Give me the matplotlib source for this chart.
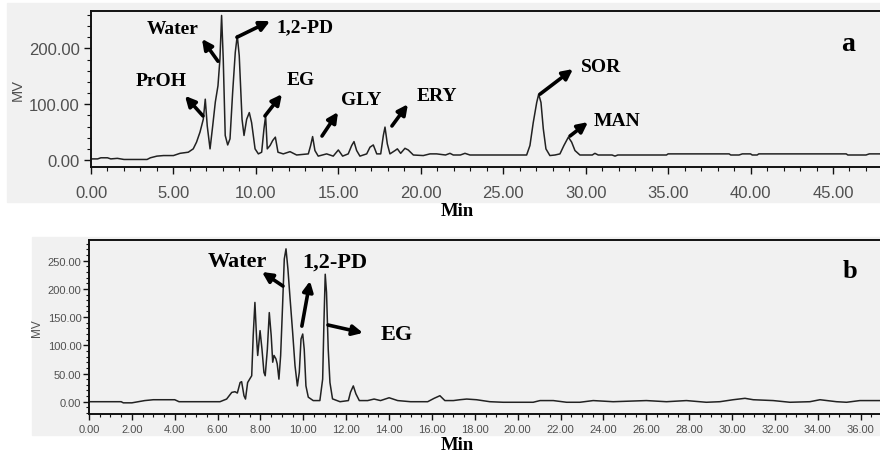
import matplotlib
matplotlib.use("Agg")
import matplotlib.pyplot as plt
from matplotlib.patches import Rectangle
from matplotlib.ticker import MultipleLocator, FormatStrFormatter

# chromatogram a: retention time (min) vs signal (mV)
top_time = [
    0.0, 0.4, 0.6, 1.0, 1.2, 1.6, 2.0, 3.4, 3.6, 4.0,
    4.4, 5.0, 5.4, 5.9, 6.2, 6.4, 6.61, 6.81, 6.93, 7.05,
    7.22, 7.38, 7.54, 7.7, 7.82, 7.92, 8.02, 8.14, 8.29, 8.43,
    8.59, 8.75, 8.87, 8.99, 9.16, 9.28, 9.44, 9.6, 9.74, 9.95,
    10.15, 10.35, 10.49, 10.59, 10.69, 10.86, 11.02, 11.18, 11.34, 11.66,
    12.07, 12.47, 13.18, 13.32, 13.44, 13.58, 13.78, 14.29, 14.69, 15.0,
    15.26, 15.6, 15.81, 15.95, 16.11, 16.31, 16.72, 16.92, 17.12, 17.33,
    17.57, 17.73, 17.83, 17.97, 18.13, 18.44, 18.58, 18.78, 19.04, 19.24,
    19.55, 20.15, 20.56, 20.96, 21.5, 21.77, 21.97, 22.4, 22.68, 22.98,
    26.42, 26.62, 26.82, 27.03, 27.15, 27.29, 27.43, 27.59, 27.83, 28.14,
    28.44, 28.68, 28.95, 29.15, 29.35, 29.65, 30.4, 30.56, 30.76, 31.6,
    31.78, 31.95, 34.9, 35.0, 38.7, 38.8, 39.3, 39.5, 40.0, 40.1,
    40.4, 40.5, 45.8, 45.9, 47.0, 47.2, 48.0,
]
top_mv = [
    2, 2, 4, 4, 2, 3, 1, 1, 4, 7,
    8, 8, 12, 14, 20, 32, 50, 73, 109, 61,
    20, 61, 104, 133, 181, 259, 181, 44, 27, 38,
    121, 193, 223, 187, 73, 44, 73, 85, 67, 20,
    11, 14, 56, 79, 20, 26, 35, 41, 14, 11,
    15, 9, 11, 26, 42, 17, 7, 11, 7, 18,
    7, 11, 26, 33, 17, 7, 11, 23, 27, 11,
    11, 44, 59, 29, 11, 17, 20, 12, 21, 18,
    9, 8, 11, 11, 9, 12, 9, 9, 12, 9,
    9, 26, 67, 103, 118, 103, 56, 20, 8, 9,
    11, 26, 41, 32, 17, 9, 9, 12, 9, 9,
    7, 9, 9, 11, 11, 9, 9, 11, 11, 9,
    9, 11, 11, 9, 9, 11, 11,
]

# chromatogram b
bot_time = [
    0.0, 1.5, 1.6, 2.0, 2.6, 3.0, 4.0, 4.2, 6.11, 6.42,
    6.66, 6.81, 6.92, 7.05, 7.12, 7.23, 7.3, 7.4, 7.51, 7.59,
    7.66, 7.74, 7.82, 7.87, 7.98, 8.07, 8.16, 8.22, 8.32, 8.41,
    8.5, 8.57, 8.63, 8.72, 8.78, 8.86, 8.94, 9.03, 9.11, 9.19,
    9.28, 9.37, 9.5, 9.61, 9.72, 9.81, 9.89, 9.97, 10.04, 10.12,
    10.23, 10.46, 10.77, 10.9, 10.96, 11.02, 11.08, 11.16, 11.24, 11.36,
    11.71, 12.1, 12.2, 12.33, 12.45, 12.61, 13.0, 13.3, 13.6, 14.0,
    14.4, 15.0, 15.8, 16.1, 16.37, 16.6, 17.0, 17.3, 17.62, 18.08,
    18.7, 19.32, 20.72, 21.04, 21.66, 22.28, 22.9, 23.52, 24.45, 26.0,
    26.94, 27.87, 28.8, 29.43, 30.05, 30.6, 30.99, 31.92, 32.7, 33.63,
    34.1, 34.87, 35.34, 35.96, 37.0,
]
bot_mv = [
    0, 0, -2, -2, 2, 3.5, 3.5, 0, 0, 4.7,
    16.5, 17.7, 15.4, 34, 35.5, 10.6, 4.7, 34, 41, 46,
    117, 176, 111, 82, 126, 93, 52, 46, 93, 158,
    117, 70, 82, 76, 67, 40, 82, 170, 253, 271,
    235, 188, 123, 64, 28, 52, 111, 120, 93, 28,
    8, 2, 2, 40, 141, 226, 194, 93, 34, 5,
    0, 2, 17, 28, 14, 2, 2, 4.7, 2, 7,
    2, 0, 0, 6, 10.6, 2, 2, 3.5, 4.7, 3.5,
    0, -1, -1, 2, 2, -1, -1, 2, 0, 2,
    0, 2, -1, 0, 3.5, 6, 3.5, 2, -1, 0,
    3.5, 0, -1, 2, 2,
]

# peak labels: (text, label x, label y, arrow tail (x, y), arrow head (x, y))
top_labels = [
    ("Water", 4.97, 235, (7.70, 177), (6.73, 217)),
    ("1,2-PD", 13.0, 238, (8.85, 220), (10.86, 249)),
    ("PrOH", 4.25, 142, (6.79, 79), (5.70, 115)),
    ("EG", 12.73, 145, (10.55, 79), (11.58, 118)),
    ("GLY", 16.37, 109, (14.01, 43), (14.98, 86)),
    ("ERY", 20.98, 115, (18.25, 61), (19.22, 100)),
    ("SOR", 30.93, 168, (27.23, 118), (29.23, 163)),
    ("MAN", 31.9, 70, (29.05, 43), (30.14, 68)),
]
bot_labels = [
    ("Water", 6.9, 249, (9.05, 205), (8.07, 230)),
    ("1,2-PD", 11.47, 249, (9.93, 134), (10.31, 214)),
    ("EG", 14.37, 120, (11.15, 136), (12.78, 122)),
]

SERIF = ["Liberation Serif", "DejaVu Serif"]
SANS = ["Liberation Sans", "DejaVu Sans"]
PANEL = "#f1f1f1"
TICK_COLOR = "#505050"

fig = plt.figure(figsize=(8.8, 4.56), dpi=100)
fig.patch.set_facecolor("white")

W, H = 880.0, 456.0
# grey screenshot panels behind each chromatogram
fig.add_artist(Rectangle((7 / W, 1 - 203 / H), 873 / W, 199 / H,
                         transform=fig.transFigure, color=PANEL, zorder=0))
fig.add_artist(Rectangle((32 / W, 1 - 436 / H), 848 / W, 198 / H,
                         transform=fig.transFigure, color=PANEL, zorder=0))

ax1 = fig.add_axes([91 / W, 1 - 168 / H, 789 / W, 156 / H])
ax2 = fig.add_axes([89 / W, 1 - 415 / H, 791 / W, 174 / H])


def style(ax, xmaj, xmin, ymaj, ymin, size, pad_x, pad_y, maj_len, min_len):
    ax.patch.set_alpha(0.0)
    ax.spines["right"].set_visible(False)
    for s in ("left", "bottom", "top"):
        ax.spines[s].set_linewidth(1.4)
        ax.spines[s].set_color("#111111")
    ax.xaxis.set_major_locator(MultipleLocator(xmaj))
    ax.xaxis.set_minor_locator(MultipleLocator(xmin))
    ax.yaxis.set_major_locator(MultipleLocator(ymaj))
    ax.yaxis.set_minor_locator(MultipleLocator(ymin))
    ax.xaxis.set_major_formatter(FormatStrFormatter("%.2f"))
    ax.yaxis.set_major_formatter(FormatStrFormatter("%.2f"))
    ax.tick_params(axis="both", which="major", direction="out",
                   length=maj_len, width=1.0, colors="#111111",
                   labelcolor=TICK_COLOR, labelsize=size)
    ax.tick_params(axis="both", which="minor", direction="out",
                   length=min_len, width=0.8, colors="#111111")
    ax.tick_params(axis="x", which="major", pad=pad_x)
    ax.tick_params(axis="y", which="major", pad=pad_y)
    for lab in ax.get_xticklabels() + ax.get_yticklabels():
        lab.set_family(SANS)


def add_labels(ax, labels, size):
    for text, lx, ly, tail, head in labels:
        ax.text(lx, ly, text, ha="center", va="center", fontsize=size,
                fontweight="bold", family=SERIF, color="black")
        ax.annotate("", xy=head, xytext=tail,
                    arrowprops=dict(arrowstyle="-|>", color="black", lw=2.6,
                                    mutation_scale=15, shrinkA=0, shrinkB=0))


# panel a
ax1.plot(top_time, top_mv, color="#222222", lw=1.1)
ax1.set_xlim(0, 47.85)
ax1.set_ylim(-12.5, 267)
style(ax1, 5, 1, 100, 20, 12, 8, 3, 5, 3)
ax1.set_ylabel("MV", family=SANS, fontsize=10.5, color=TICK_COLOR, labelpad=3)
add_labels(ax1, top_labels, 14)
ax1.text(45.9, 208, "a", ha="center", va="center", fontsize=20,
         fontweight="bold", family=SERIF)

# panel b
ax2.plot(bot_time, bot_mv, color="#222222", lw=1.1)
ax2.set_xlim(0, 36.9)
ax2.set_ylim(-21.8, 286.7)
style(ax2, 2, 0.5, 50, 10, 8, 3, 1.5, 4, 2)
ax2.set_ylabel("MV", family=SANS, fontsize=8.5, color=TICK_COLOR, labelpad=3)
add_labels(ax2, bot_labels, 16)
ax2.text(35.5, 232, "b", ha="center", va="center", fontsize=19,
         fontweight="bold", family=SERIF)

# "Min" axis titles, placed like in the source figure
fig.text(457 / W, 1 - 212 / H, "Min", ha="center", va="center", fontsize=13.5,
         fontweight="bold", family=SERIF)
fig.text(457 / W, 1 - 446 / H, "Min", ha="center", va="center", fontsize=13.5,
         fontweight="bold", family=SERIF)

fig.savefig("out.png", dpi=100, facecolor=fig.get_facecolor())
